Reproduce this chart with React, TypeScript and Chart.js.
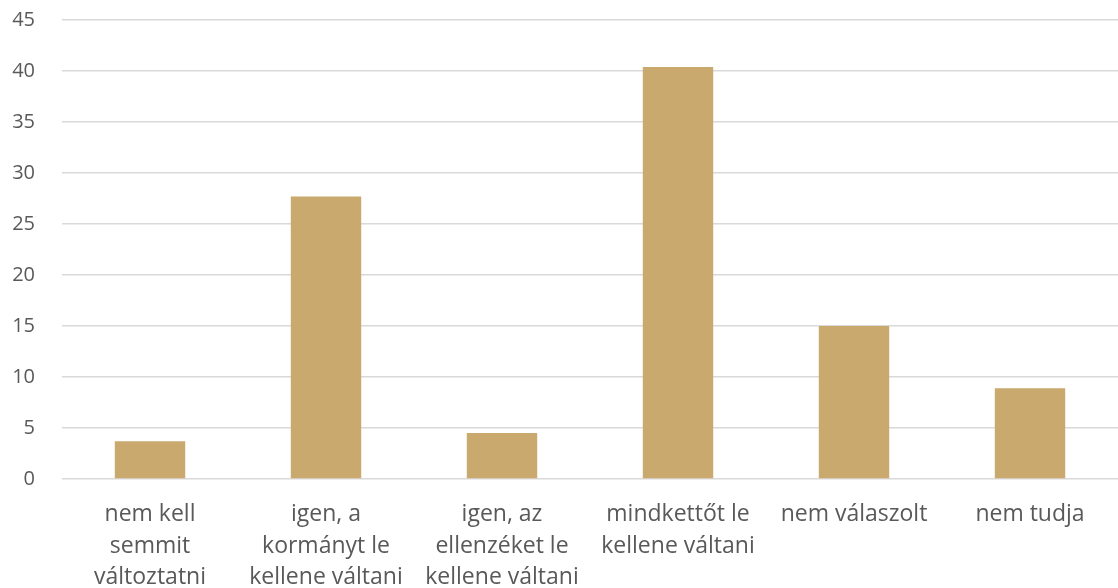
import React, { useEffect, useRef } from "react";
import { Chart, registerables } from "chart.js";

Chart.register(...registerables);

const categories: string[][] = [
  ["nem kell", "semmit", "változtatni"],
  ["igen, a", "kormányt le", "kellene váltani"],
  ["igen, az", "ellenzéket le", "kellene váltani"],
  ["mindkettőt le", "kellene váltani"],
  ["nem válaszolt"],
  ["nem tudja"],
];
const values: number[] = [3.7, 27.7, 4.5, 40.4, 15.0, 8.9];
const yMin = 0;
const yMax = 45;
const yStep = 5;

export default function App() {
  const ref = useRef<HTMLCanvasElement | null>(null);
  useEffect(() => {
    document.body.style.margin = "0";
    if (!ref.current) return;
    const chart = new Chart(ref.current, {
      type: "bar",
      data: {
        labels: categories,
        datasets: [
          {
            data: values,
            backgroundColor: "#C9A96E",
            borderWidth: 0,
            barPercentage: 0.4,
            categoryPercentage: 1,
          },
        ],
      },
      options: {
        animation: false,
        responsive: true,
        maintainAspectRatio: false,
        layout: { padding: { top: 20, right: 0, bottom: 0, left: 0 } },
        plugins: { legend: { display: false }, tooltip: { enabled: false } },
        scales: {
          x: {
            grid: { display: false, drawTicks: false },
            border: { display: false },
            ticks: {
              color: "#595959",
              font: { family: "Open Sans", size: 23, lineHeight: 1.37 },
              padding: 20,
              maxRotation: 0,
              autoSkip: false,
            },
            afterFit: (s: any) => {
              s.height = 109;
            },
          },
          y: {
            min: yMin,
            max: yMax,
            grid: {
              color: "#D9D9D9",
              lineWidth: 1.5,
              drawTicks: true,
              tickLength: 22,
              tickColor: "rgba(0,0,0,0)",
            },
            border: { display: false },
            ticks: {
              stepSize: yStep,
              color: "#595959",
              font: { family: "Open Sans", size: 20 },
              padding: 5,
            },
            afterFit: (s: any) => {
              s.width = 62;
            },
          },
        },
      },
    });
    return () => chart.destroy();
  }, []);
  return (
    <div style={{ position: "relative", width: 1118, height: 588 }}>
      <canvas ref={ref} />
    </div>
  );
}
